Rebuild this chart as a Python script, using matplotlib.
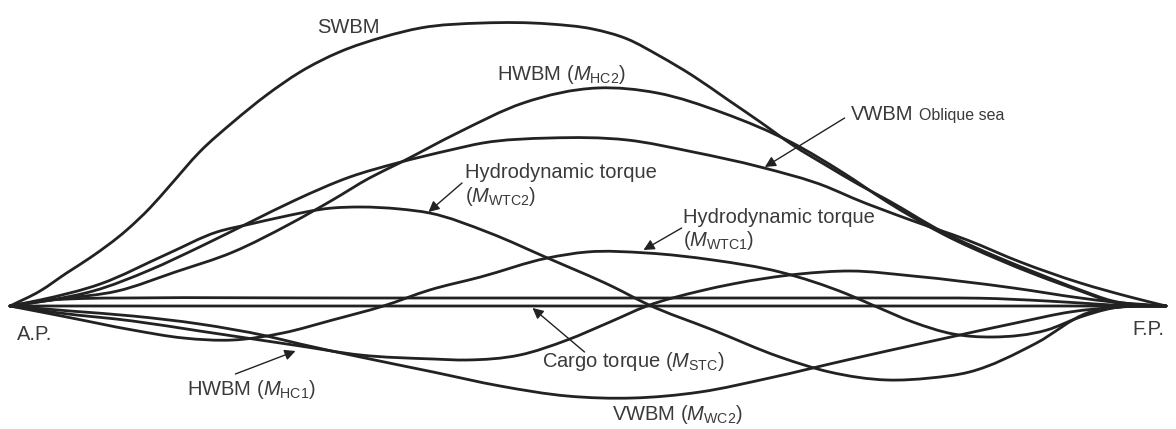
import numpy as np
import matplotlib
matplotlib.use("Agg")
import matplotlib.pyplot as plt
from matplotlib.path import Path
from matplotlib.patches import PathPatch

# ---------------- data (x: % of ship length from A.P., M: arbitrary units) -------------
swbm_x = [0, 2.6, 4.9, 6.9, 10.1, 12.1, 13.8, 16.4, 19.3, 22.2, 25.1, 28.5, 32.3, 35.5, 40.9,
          46.7, 50.4, 53.4, 56.2, 59.1, 62.0, 64.9, 67.7, 70.7, 73.5, 75.9, 80.7, 85.6, 88.8,
          92.6, 95.4, 97.8, 100]
swbm_m = [0, 15, 33, 48, 76, 98, 120, 154, 184, 211, 234, 254, 269, 278, 283,
          282, 277, 267, 250, 230, 207, 184, 161, 140, 121, 106, 74, 48, 33,
          16, 5, 1, 0]

hc2_x = [0, 4.3, 9.3, 14.3, 19.3, 24.2, 27.9, 31.1, 33.7, 38.7, 44.4, 50.8, 56.0, 61.7,
         67.7, 72.1, 75.9, 80.7, 85.6, 88.8, 92.6, 95.4, 97.8, 100]
hc2_m = [0, 7, 15, 34, 54, 82, 106, 128, 143, 173, 203, 218, 213, 193,
         163, 133, 104, 72, 46, 31, 15, 4, 1, 0]

obl_x = [0, 3.5, 7.2, 12.1, 16.4, 20.8, 24.7, 29.4, 33.5, 38.1, 40.9, 46.7, 53.4, 59.1,
         64.9, 70.7, 72.9, 77.9, 82.8, 87.4, 92.6, 96.9, 100]
obl_m = [0, 6, 15, 36, 59, 84, 106, 129, 143, 156, 163, 168, 166, 154,
         139, 119, 108, 86, 66, 44, 23, 9, 0]

wtc2_x = [0, 2.6, 7.8, 13.6, 17.9, 20.8, 23.1, 27.9, 30.3, 33.7, 36.3, 41.5, 46.5, 52.2,
          55.1, 60.8, 66.6, 70.9, 75.9, 79.6, 83.0, 88.8, 93.2, 96.0, 100]
wtc2_m = [0, 6, 22, 52, 74, 82, 88, 98, 99, 97, 93, 73, 48, 19,
          2, -24, -51, -66, -74, -72, -66, -37, -7, -1, 0]

wtc1_x = [0, 4.9, 10.6, 15.0, 19.3, 23.6, 27.9, 32.3, 36.3, 40.7, 46.5, 49.9, 55.1, 60.8,
          66.6, 72.4, 74.8, 78.1, 81.6, 85.0, 89.7, 92.6, 95.4, 100]
wtc1_m = [0, -11, -24, -32, -34, -27, -14, 0, 16, 29, 48, 54, 53, 46,
          34, 12, 0, -16, -28, -31, -24, -11, -2, 0]

hc1_x = [0, 4.3, 10.6, 16.4, 22.2, 25.1, 30.3, 36.6, 39.5, 44.1, 48.2, 51.9, 55.1, 59.7,
         62.5, 68.3, 72.7, 78.1, 86.8, 92.6, 95.4, 100]
hc1_m = [0, -7, -15, -25, -35, -40, -49, -53, -54, -49, -34, -16, 0, 15,
         22, 32, 35, 30, 18, 8, 4, 0]

wc2_x = [0, 5.2, 10.6, 16.4, 22.2, 25.1, 30.3, 36.6, 42.4, 48.2, 53.9, 59.7, 65.7, 72.4,
         80.2, 87.4, 91.7, 96.0, 100]
wc2_m = [0, -5, -10, -18, -30, -38, -51, -66, -80, -90, -92, -86, -72, -54,
         -34, -16, -6, -1, 0]

flat_x = [0, 2.6, 6.3, 10.0, 30.0, 51.0, 70.0, 80.0, 83.9, 89.7, 92.6, 95.4, 100]
flat_m = [0, 5, 7.5, 8, 8, 8, 8, 8, 7.8, 5, 3, 1, 0]

stc_x = [0, 25, 50, 75, 100]
stc_m = [0, 0, 0, 0, 0]

curves = [(swbm_x, swbm_m), (hc2_x, hc2_m), (obl_x, obl_m), (wtc2_x, wtc2_m),
          (wtc1_x, wtc1_m), (hc1_x, hc1_m), (wc2_x, wc2_m), (flat_x, flat_m),
          (stc_x, stc_m)]

# ---------------- style ----------------
plt.rcParams['font.family'] = ['Liberation Sans', 'DejaVu Sans']
plt.rcParams['mathtext.fontset'] = 'custom'
plt.rcParams['mathtext.rm'] = 'Liberation Sans'
plt.rcParams['mathtext.it'] = 'Liberation Sans:italic'
LINE = '#222222'
TXT = '#3a3a3a'
FS = 14.5


def smooth_path(x, y):
    """Cubic Hermite through the read points (non-uniform central-difference
    tangents), drawn as Bezier segments."""
    x = np.asarray(x, float)
    y = np.asarray(y, float)
    h = np.diff(x)
    d = np.diff(y) / h
    n = len(x)
    m = np.empty(n)
    m[0] = d[0]
    m[-1] = d[-1]
    for i in range(1, n - 1):
        m[i] = (d[i - 1] * h[i] + d[i] * h[i - 1]) / (h[i - 1] + h[i])
    verts = [(x[0], y[0])]
    codes = [Path.MOVETO]
    for i in range(n - 1):
        verts += [(x[i] + h[i] / 3, y[i] + m[i] * h[i] / 3),
                  (x[i + 1] - h[i] / 3, y[i + 1] - m[i + 1] * h[i] / 3),
                  (x[i + 1], y[i + 1])]
        codes += [Path.CURVE4] * 3
    return Path(verts, codes)


fig = plt.figure(figsize=(11.76, 4.29), dpi=100)
ax = fig.add_axes([0, 0, 1, 1])
ax.set_xlim(-0.865, 100.865)
ax.set_ylim(-123, 306)
ax.axis('off')

for cx, cm in curves:
    ax.add_patch(PathPatch(smooth_path(cx, cm), facecolor='none', edgecolor=LINE,
                           lw=2.0, capstyle='round', joinstyle='round'))


def label(x, y, s, fs=FS):
    ax.text(x, y, s, fontsize=fs, color=TXT, ha='left', va='baseline')


def arrow(xy_tail, xy_tip):
    ax.annotate('', xy=xy_tip, xytext=xy_tail,
                arrowprops=dict(arrowstyle='-|>', color='#222222', lw=1.0,
                                mutation_scale=16, shrinkA=0, shrinkB=0))


label(26.6, 273, 'SWBM')
label(42.1, 226, r'HWBM ($M_{\mathrm{HC2}}$)')
label(72.7, 186, 'VWBM')
label(78.6, 186, 'Oblique sea', fs=11.5)
label(39.4, 128, 'Hydrodynamic torque')
label(39.4, 104, r'($M_{\mathrm{WTC2}}$)')
label(58.2, 83, 'Hydrodynamic torque')
label(58.2, 60, r'($M_{\mathrm{WTC1}}$)')
label(46.0, -61, r'Cargo torque ($M_{\mathrm{STC}}$)')
label(52.1, -114, r'VWBM ($M_{\mathrm{WC2}}$)')
label(15.3, -89, r'HWBM ($M_{\mathrm{HC1}}$)')
label(0.6, -34, 'A.P.')
label(97.1, -29, 'F.P.')

arrow((72.2, 188), (65.3, 139))
arrow((39.1, 123), (36.2, 94))
arrow((58.1, 78), (54.8, 56))
arrow((49.7, -46), (45.2, -2))
arrow((19.5, -68), (24.7, -45))

fig.savefig('out.png', dpi=100, facecolor='white')
